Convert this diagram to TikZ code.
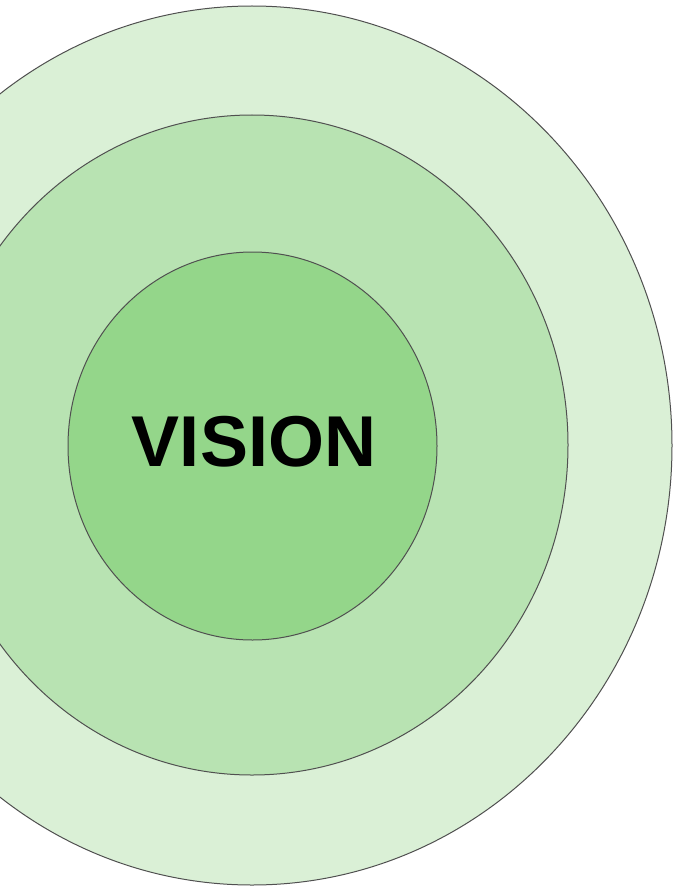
\documentclass[tikz,border=0pt]{standalone}
\usepackage{fontspec}
\setmainfont{Liberation Sans}
\usepackage{tikz}
\usetikzlibrary{shapes.geometric}
\definecolor{ringouter}{RGB}{218,240,214}
\definecolor{ringmiddle}{RGB}{184,227,178}
\definecolor{ringinner}{RGB}{148,214,138}
\definecolor{ringline}{RGB}{80,80,80}

\begin{document}
\begin{tikzpicture}[x=1pt,y=-1pt,
    ring/.style={ellipse, draw=ringline, line width=1pt, inner sep=0pt}]

      \useasboundingbox (0,0) rectangle (674,888);

      \node[ring, fill=ringouter, minimum width=840pt, minimum height=879pt] (outer) at (252,445.5) {};
      \node[ring, fill=ringmiddle, minimum width=632pt, minimum height=660pt] (middle) at (252,445) {};
      \node[ring, fill=ringinner, minimum width=369pt, minimum height=388pt] (inner) at (252.5,446) {};

      \node[inner sep=0pt] (vision) at (254,441.5) {\fontsize{72}{76}\selectfont\bfseries VISION};
    \end{tikzpicture}
\end{document}
